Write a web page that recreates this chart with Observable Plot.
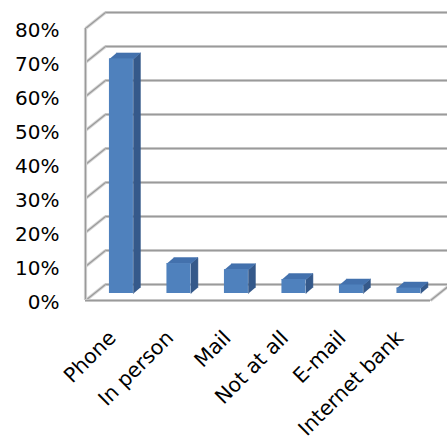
<!DOCTYPE html>
<html><head><meta charset="utf-8">
<script src="https://cdn.jsdelivr.net/npm/d3@7"></script>
<script src="https://cdn.jsdelivr.net/npm/@observablehq/plot@0.6"></script>
<style>html,body{margin:0;padding:0;background:#fff;overflow:hidden}</style>
</head><body><div id="chart"></div>
<script>
// ---- data ----
const categories = ["Phone", "In person", "Mail", "Not at all", "E-mail", "Internet bank"];
const shares = [0.69, 0.088, 0.07, 0.041, 0.025, 0.016];
const yTicks = [0, 0.1, 0.2, 0.3, 0.4, 0.5, 0.6, 0.7, 0.8];

// ---- layout ----
const W = 447, H = 444, mL = 85, mR = 17, mT = 28, mB = 144;
const xDomain = [-0.625, categories.length - 0.625];
const yDomain = [0, 0.8];
const pxX = (W - mL - mR) / (xDomain[1] - xDomain[0]);
const pxY = (H - mT - mB) / (yDomain[1] - yDomain[0]);
const wallDX = 20 / pxX, wallDY = 16 / pxY;     // depth of the 3D box
const barHalf = 12 / pxX, barDX = 7 / pxX, barDY = 6 / pxY; // bar size / depth
const barLift = -7; // bars sit a little behind the front edge (px)

const bars = categories.map((c, i) => ({i, c, v: shares[i]}));
const sides = bars.flatMap(b => {
  const xr = b.i + barHalf;
  return [[xr, 0], [xr, b.v], [xr + barDX, b.v + barDY], [xr + barDX, barDY]]
    .map(([x, y]) => ({id: b.c, x, y}));
});
const tops = bars.flatMap(b => {
  const xl = b.i - barHalf, xr = b.i + barHalf;
  return [[xl, b.v], [xr, b.v], [xr + barDX, b.v + barDY], [xl + barDX, b.v + barDY]]
    .map(([x, y]) => ({id: b.c, x, y}));
});
const wallDiag = yTicks.map(t => ({x1: xDomain[0], y1: t, x2: xDomain[0] + wallDX, y2: t + wallDY}));
const floorDiag = [{x1: xDomain[1], y1: 0, x2: xDomain[1] + wallDX, y2: wallDY}];

const gridLight = {stroke: "#d4d4d4", strokeWidth: 3.2};
const gridDark = {stroke: "#9a9a9a", strokeWidth: 1.3};

function gridLayers(o) {
  return [o(gridLight), o(gridDark)];
}

const chart = Plot.plot({
  width: W, height: H,
  marginLeft: mL, marginRight: mR, marginTop: mT, marginBottom: mB,
  x: {domain: xDomain, axis: null},
  y: {domain: yDomain, axis: null},
  style: {fontFamily: "DejaVu Sans", fontSize: "20px", color: "#000", background: "#fff", overflow: "visible"},
  marks: [
    // back wall grid lines
    ...gridLayers(s => Plot.ruleY(yTicks, {x1: xDomain[0], x2: xDomain[1], dx: 20, dy: -16, ...s})),
    // left wall diagonals
    ...gridLayers(s => Plot.link(wallDiag, {x1: "x1", y1: "y1", x2: "x2", y2: "y2", ...s})),
    // left wall front edge
    ...gridLayers(s => Plot.ruleX([xDomain[0]], {y1: 0, y2: 0.8, ...s})),
    // floor front edge and right diagonal
    ...gridLayers(s => Plot.ruleY([0], {x1: xDomain[0], x2: xDomain[1], ...s})),
    ...gridLayers(s => Plot.link(floorDiag, {x1: "x1", y1: "y1", x2: "x2", y2: "y2", ...s})),
    // bars: side, top, front
    Plot.line(sides, {x: "x", y: "y", z: "id", fill: "#35598a", stroke: "#35598a", strokeWidth: 0.5, dy: barLift, curve: "linear"}),
    Plot.line(tops, {x: "x", y: "y", z: "id", fill: "#4371ad", stroke: "#4371ad", strokeWidth: 0.5, dy: barLift, curve: "linear"}),
    Plot.rect(bars, {x1: d => d.i - barHalf, x2: d => d.i + barHalf, y1: () => 0, y2: "v", fill: "#4f81bd", dy: barLift}),
    // axes
    Plot.axisY(yTicks, {tickFormat: d3.format(".0%"), tickSize: 0, tickPadding: 26, dy: 2, fontSize: 20}),
    Plot.axisX(bars.map(b => b.i), {tickFormat: i => categories[i], tickRotate: -45, tickSize: 0, tickPadding: 34, dx: -9, fontSize: 20.5})
  ]
});
document.getElementById("chart").append(chart);
</script>
</body></html>
